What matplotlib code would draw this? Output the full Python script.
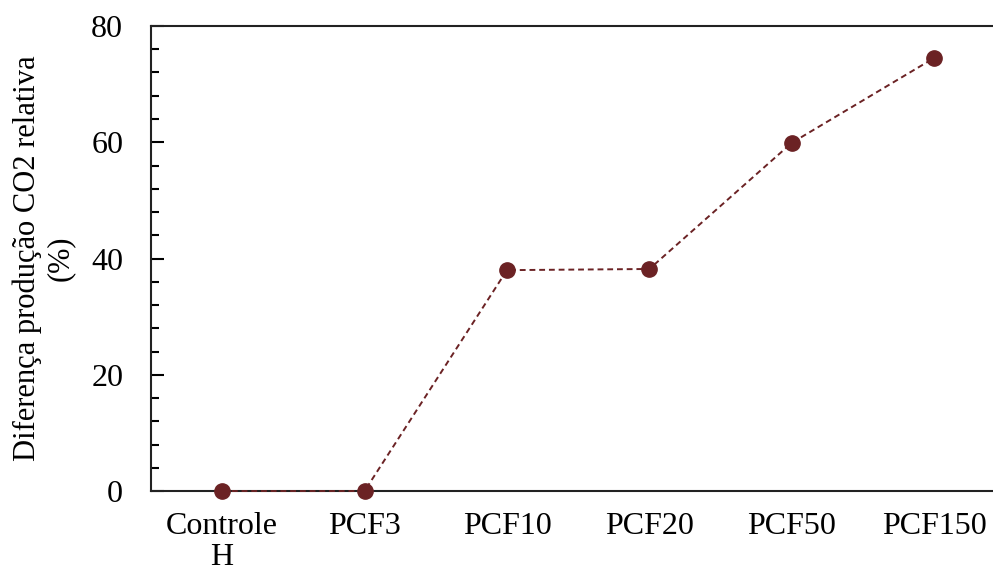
import matplotlib.pyplot as plt
from matplotlib.ticker import MultipleLocator

categories = ['Controle\nH', 'PCF3', 'PCF10', 'PCF20', 'PCF50', 'PCF150']
values = [0, 0, 38.0, 38.2, 59.9, 74.5]

plt.rcParams['font.family'] = ['Liberation Serif', 'DejaVu Serif']
plt.rcParams['font.size'] = 23

fig = plt.figure(figsize=(9.93, 5.75), dpi=100)
ax = fig.add_axes([0.152, 0.146, 0.848, 0.8088])

ax.plot(range(len(categories)), values, linestyle='--', color='#6b2224',
        linewidth=1.4, dashes=(3, 2), marker='o', markersize=11, clip_on=False, zorder=3)

ax.set_ylim(0, 80)
ax.set_xlim(-0.5, 5.413)
ax.yaxis.set_major_locator(MultipleLocator(20))
ax.yaxis.set_minor_locator(MultipleLocator(4))
ax.set_xticks(range(len(categories)))
ax.set_xticklabels(categories, linespacing=1.1)
ax.tick_params(axis='x', length=0, pad=15)
ax.tick_params(axis='y', which='major', direction='in', length=9, width=1.5, pad=20)
ax.tick_params(axis='y', which='minor', direction='in', length=6, width=1.5)
ax.spines['right'].set_visible(False)
for s in ['left', 'top', 'bottom']:
    ax.spines[s].set_linewidth(1.5)
    ax.spines[s].set_color('#222222')

ax.set_ylabel('Diferença produção CO2 relativa\n(%)', fontsize=22, linespacing=1.15, labelpad=12)

plt.savefig('out.png', dpi=100)
